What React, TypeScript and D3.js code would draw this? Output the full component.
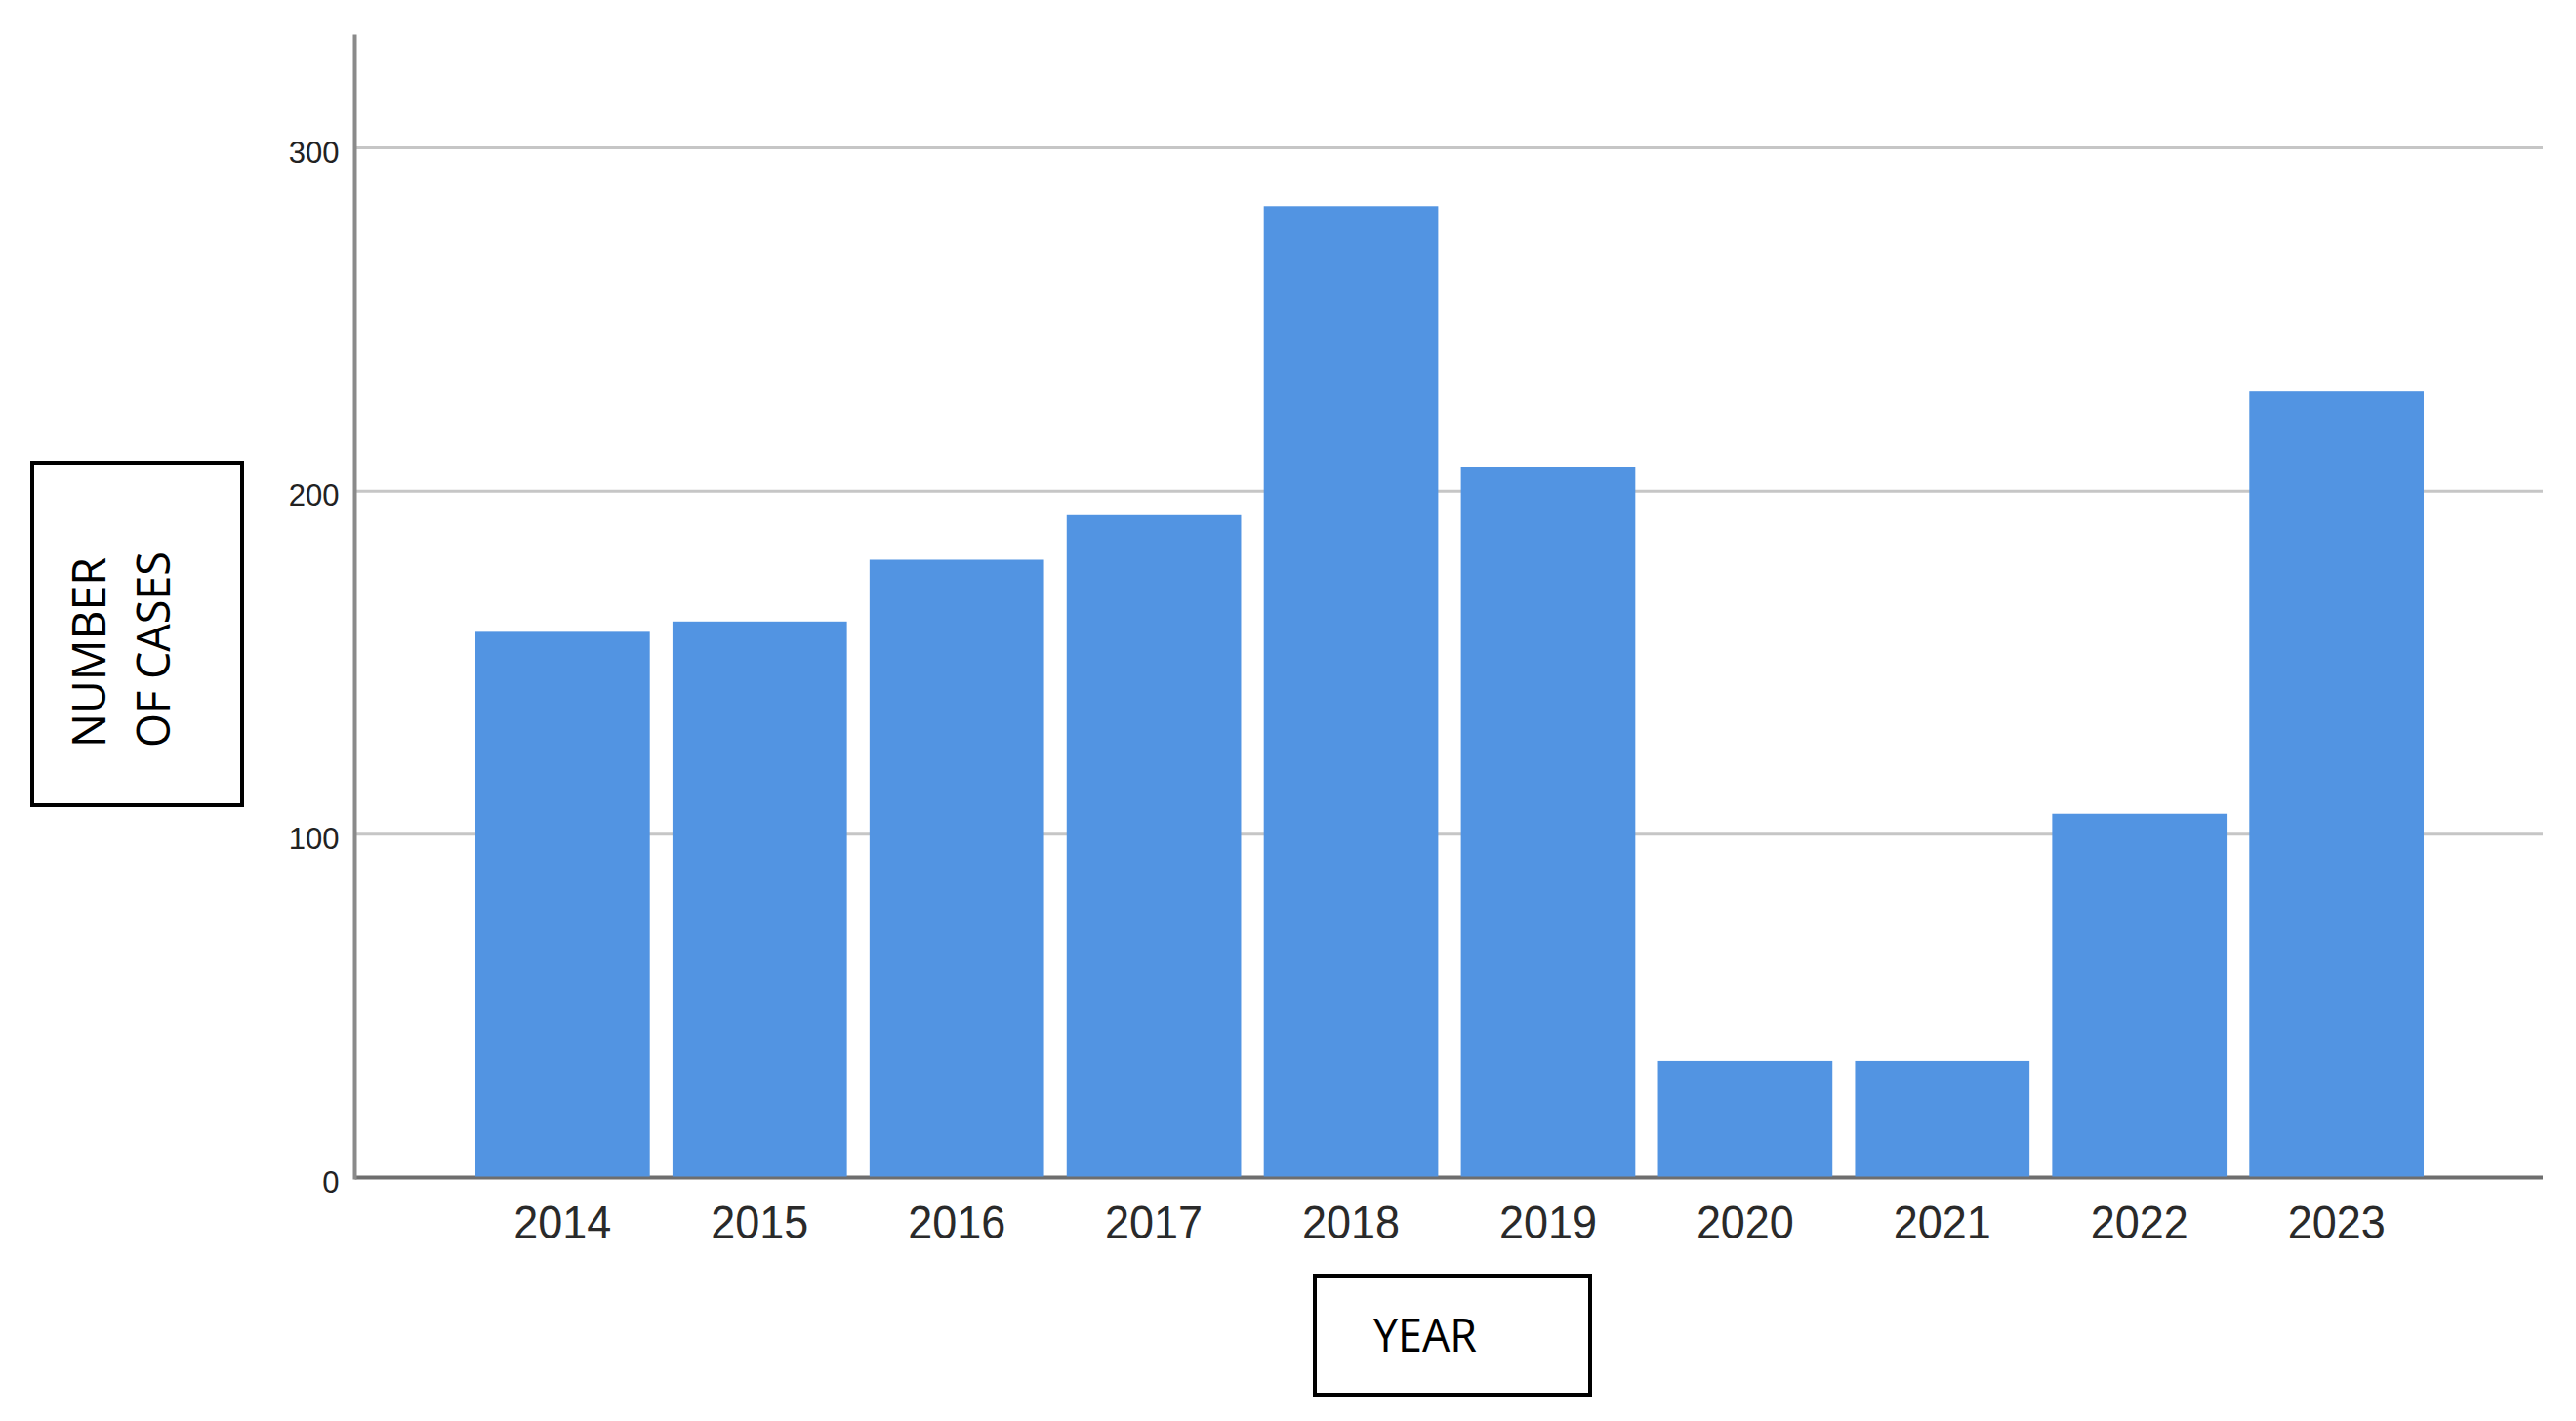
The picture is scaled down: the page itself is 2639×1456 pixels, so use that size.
import React from 'react';
import * as d3 from 'd3';

// values
const years = ['2014', '2015', '2016', '2017', '2018', '2019', '2020', '2021', '2022', '2023'];
const cases = [159, 162, 180, 193, 283, 207, 34, 34, 106, 229];
const yTicks = [0, 100, 200, 300];
const gridTicks = [100, 200, 300];

const W = 2639;
const H = 1456;

const App = () => {
  const axisLeft = 363.5;
  const axisRight = 2605;

  const y = d3.scaleLinear().domain([0, 300]).range([1206.5, 151.5]);
  const x = d3.scaleBand()
    .domain(years)
    .range([487, 2483])
    .paddingInner(0.115)
    .paddingOuter(0);

  const bars = years.map((yr, i) => ({ yr, v: cases[i] }));

  return (
    <svg
      width={W}
      height={H}
      style={{ position: 'absolute', left: 0, top: 0, background: '#fff' }}
    >
      <rect x={0} y={0} width={W} height={H} fill="#fff" />

      {/* horizontal grid */}
      {gridTicks.map(t => (
        <line key={t} x1={axisLeft} x2={axisRight} y1={y(t)} y2={y(t)} stroke="#c6c6c6" strokeWidth={3} />
      ))}

      {/* x axis line */}
      <line x1={axisLeft} x2={axisRight} y1={y(0)} y2={y(0)} stroke="#6e6e6e" strokeWidth={4} />

      {/* bars */}
      {bars.map(d => (
        <rect
          key={d.yr}
          x={x(d.yr)}
          y={y(d.v)}
          width={x.bandwidth()}
          height={y(0) - y(d.v) - 1}
          fill="#5294e2"
        />
      ))}

      {/* y axis line */}
      <line x1={axisLeft} x2={axisLeft} y1={y(333)} y2={y(0) + 2} stroke="#8a8a8a" strokeWidth={4} />

      {/* y tick labels */}
      {yTicks.map(t => (
        <text
          key={t}
          x={axisLeft - 16}
          y={y(t) + 15}
          textAnchor="end"
          fontFamily="'Liberation Sans', Arial, sans-serif"
          fontSize={31}
          fill="#222"
        >
          {t}
        </text>
      ))}

      {/* x tick labels */}
      {years.map(yr => (
        <text
          key={yr}
          x={(x(yr) as number) + x.bandwidth() / 2}
          y={1269}
          textAnchor="middle"
          fontFamily="'Liberation Sans', Arial, sans-serif"
          fontSize={49}
          textLength={100}
          lengthAdjust="spacingAndGlyphs"
          fill="#2a2a2a"
        >
          {yr}
        </text>
      ))}

      {/* y axis title box */}
      <rect x={33} y={474} width={215} height={351} fill="none" stroke="#000" strokeWidth={4} />
      <g transform="translate(0, 766) rotate(-90)" fontFamily="'Open Sans', sans-serif" fontSize={47} fill="#000">
        <text x={0} y={108} textLength={195} lengthAdjust="spacingAndGlyphs">NUMBER</text>
        <text x={0} y={174} textLength={201} lengthAdjust="spacingAndGlyphs">OF CASES</text>
      </g>

      {/* x axis title box */}
      <rect x={1347} y={1307} width={282} height={122} fill="none" stroke="#000" strokeWidth={4} />
      <text
        x={1407}
        y={1385}
        fontFamily="'Open Sans', sans-serif"
        fontSize={47}
        textLength={106}
        lengthAdjust="spacingAndGlyphs"
        fill="#000"
      >
        YEAR
      </text>
    </svg>
  );
};

export default App;
